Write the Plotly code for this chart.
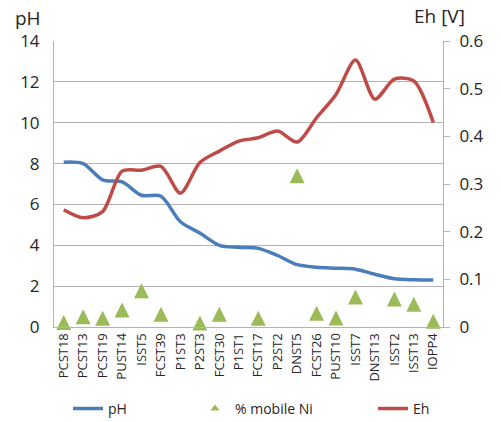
import plotly.graph_objects as go

# Sample identifiers along the x axis
samples = ["PCST18", "PCST13", "PCST19", "PUST14", "ISST5", "FCST39", "P1ST3",
           "P2ST3", "FCST30", "P1ST1", "FCST17", "P2ST2", "DNST5", "FCST26",
           "PUST10", "ISST7", "DNST13", "ISST2", "ISST13", "IOPP4"]

# pH per sample (left axis)
ph = [8.07, 8.0, 7.2, 7.1, 6.45, 6.4, 5.15, 4.6, 4.0, 3.9,
      3.85, 3.5, 3.05, 2.93, 2.88, 2.83, 2.58, 2.36, 2.31, 2.3]

# Redox potential Eh in volts (right axis)
eh = [0.246, 0.229, 0.242, 0.327, 0.329, 0.337, 0.281, 0.345, 0.369, 0.39,
      0.397, 0.411, 0.388, 0.439, 0.488, 0.56, 0.478, 0.52, 0.516, 0.429]

# Mobile nickel fraction (%), plotted on the left axis; None where not measured
mobile_ni = [0.22, 0.5, 0.43, 0.83, 1.77, 0.62, None, 0.2, 0.62, None,
             0.43, None, 7.4, 0.67, 0.44, 1.47, None, 1.37, 1.11, 0.28]

# Axis tick values
ph_ticks = [0, 2, 4, 6, 8, 10, 12, 14]
eh_ticks = [0, 0.1, 0.2, 0.3, 0.4, 0.5, 0.6]

BLUE = "#4a7ebb"
RED = "#be4b48"
GREEN = "#9bbb59"
GRID = "#b3b3b3"
TEXT = "#262626"
FONT = "Open Sans"

fig = go.Figure()

fig.add_trace(go.Scatter(
    x=samples, y=ph, name="pH", mode="lines", legend="legend",
    line=dict(color=BLUE, width=3.5, shape="spline", smoothing=0.8),
))

tri_size = 15
fig.add_trace(go.Scatter(
    x=samples, y=mobile_ni, name="% mobile Ni", mode="markers",
    marker=dict(symbol="arrow-down", angle=180, standoff=tri_size / 2,
                size=tri_size, color=GREEN, line=dict(width=0)),
    cliponaxis=False, showlegend=False, legendgroup="ni",
))
# legend entry for the marker series, drawn at a smaller size
fig.add_trace(go.Scatter(
    x=[None], y=[None], name="% mobile Ni", mode="markers", legend="legend2",
    marker=dict(symbol="triangle-up", size=8, color=GREEN),
    legendgroup="ni",
))

fig.add_trace(go.Scatter(
    x=samples, y=eh, name="Eh", mode="lines", yaxis="y2", legend="legend3",
    line=dict(color=RED, width=3.5, shape="spline", smoothing=0.8),
))

# one single-entry legend per series, placed along the bottom
legend_common = dict(
    orientation="h", xref="container", yref="container", xanchor="left",
    y=0.031, yanchor="middle", font=dict(size=14, color=TEXT),
    bgcolor="rgba(0,0,0,0)", borderwidth=0,
)

fig.update_layout(
    width=501, height=422,
    margin=dict(l=54, r=58, t=41, b=95, autoexpand=False),
    paper_bgcolor="white", plot_bgcolor="white",
    font=dict(family=FONT, color=TEXT),
    xaxis=dict(
        type="category", showgrid=False, showline=True, linecolor=GRID,
        linewidth=1, ticks="", tickangle=-90, automargin=False,
        tickfont=dict(size=13, color=TEXT), range=[-0.5, len(samples) - 0.5],
    ),
    yaxis=dict(
        range=[0, 14], tickvals=ph_ticks, showgrid=True, gridcolor=GRID,
        gridwidth=1, showline=True, linecolor=GRID, ticks="", automargin=False,
        tickfont=dict(size=17, color=TEXT), ticklabelstandoff=10,
        zeroline=False,
    ),
    yaxis2=dict(
        range=[0, 0.6], tickvals=eh_ticks, overlaying="y", side="right",
        showgrid=False, showline=True, linecolor=GRID, ticks="outside",
        ticklen=6, tickcolor=GRID, tickfont=dict(size=17, color=TEXT),
        ticklabelstandoff=6, zeroline=False, automargin=False,
    ),
    legend=dict(legend_common, x=68 / 501),
    legend2=dict(legend_common, x=195 / 501),
    legend3=dict(legend_common, x=373 / 501),
    annotations=[
        dict(text="pH", xref="paper", yref="paper", x=-0.068, y=1.08,
             xanchor="center", yanchor="middle", showarrow=False,
             font=dict(size=19, color=TEXT)),
        dict(text="Eh [V]", xref="paper", yref="paper", x=0.992, y=1.088,
             xanchor="center", yanchor="middle", showarrow=False,
             font=dict(size=19, color=TEXT)),
    ],
)

fig.write_html("out.html")
